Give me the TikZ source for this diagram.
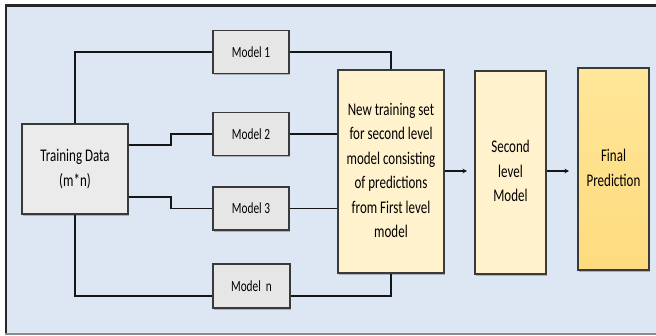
\documentclass[tikz,border=0pt]{standalone}
\usepackage{fontspec}
\usepackage{graphicx}
\setmainfont{Carlito}
\usetikzlibrary{shadows,calc,arrows.meta}

\definecolor{panelblue}{HTML}{DCE7F3}
\definecolor{greyfill}{HTML}{E6E6E6}
\definecolor{tdfill}{HTML}{EBEBEB}
\definecolor{boxline}{HTML}{3A3A3A}
\definecolor{paleyellow}{HTML}{FFF2CC}
\definecolor{goldtop}{HTML}{FFE699}
\definecolor{goldbot}{HTML}{FEDB7E}
\definecolor{wirecol}{HTML}{161616}

% narrow, tall lettering
\newcommand{\tallt}[1]{\scalebox{1}[1.37]{#1}}
\newcommand{\stacktext}[1]{\tallt{\fontsize{13}{17.9}\selectfont\begin{tabular}{@{}c@{}}#1\end{tabular}}}
\newcommand{\modeltext}[1]{\tallt{\fontsize{11.3}{13}\selectfont #1}}

\tikzset{
  boxbase/.style={draw=boxline, line width=1.3pt, rectangle, inner sep=0pt,
    drop shadow={shadow xshift=1.4pt, shadow yshift=-1.6pt, opacity=0.35, fill=black!70}},
  modelbox/.style={boxbase, fill=greyfill, minimum width=76pt, minimum height=43pt},
  wire/.style={draw=wirecol, line width=1.9pt},
  flow/.style={draw=wirecol, line width=1.3pt, -{Stealth[length=4.5pt,width=4.5pt]}},
}

\begin{document}
\begin{tikzpicture}[x=1pt, y=-1pt]
  \useasboundingbox (0,0) rectangle (656,335);
  % panel
  \fill[white] (0,0) rectangle (656,335);
  \fill[panelblue] (5,5) rectangle (656,334);
  \draw[black!85, line width=2.8pt] (5,5.5) -- (656,5.5);
  \draw[black!85, line width=2.4pt] (6.2,4.5) -- (6.2,334);
  \draw[black!45, line width=1.4pt] (5,333.8) -- (656,333.8);

  % boxes
  \node[boxbase, fill=tdfill, minimum width=106pt, minimum height=90pt] (td) at (75,169)
    {\stacktext{Training Data\\(m*n)}};
  \node[modelbox] (m1) at (251,52) {\modeltext{Model 1}};
  \node[modelbox] (m2) at (251,134) {\modeltext{Model 2}};
  \node[modelbox] (m3) at (251,208.5) {\modeltext{Model 3}};
  \node[modelbox, minimum width=77pt, minimum height=44pt] (mn) at (251.5,286) {\modeltext{Model\hspace{0.45em}n}};

  \node[boxbase, fill=paleyellow, minimum width=106pt, minimum height=203pt] (big) at (391,171.5)
    {\stacktext{New training set\\for second level\\model consisting\\of predictions\\from First level\\model}};
  \node[boxbase, fill=paleyellow, minimum width=71pt, minimum height=203pt] (second) at (510.5,172.5)
    {\stacktext{Second\\level\\Model}};
  \node[boxbase, top color=goldtop, bottom color=goldbot, minimum width=71pt, minimum height=202pt] (final) at (613.5,169)
    {\stacktext{Final\\Prediction}};

  % first-level wiring
  \draw[wire] (td.north) |- (m1.west);
  \draw[wire] ([yshift=24pt]td.east) -- ++(42pt,0) |- (m2.west);
  \draw[wire] ([yshift=-28pt]td.east) -- ++(42pt,0) |- (m3.west);
  \draw[wire] (td.south) |- ([yshift=-10pt]mn.west);

  \draw[wire] (m1.east) -| (big.north);
  \draw[wire] (m2.east) -- (m2.east -| big.west);
  \draw[wire] (m3.east) -- (m3.east -| big.west);
  \draw[wire] ([yshift=-10pt]mn.east) -| (big.south);

  % second-level flow
  \coordinate (a1) at (467,171);
  \coordinate (a2) at (569,171);
  \draw[flow] (big.east |- a1) -- (a1);
  \draw[flow] (second.east |- a2) -- (a2);
\end{tikzpicture}
\end{document}
